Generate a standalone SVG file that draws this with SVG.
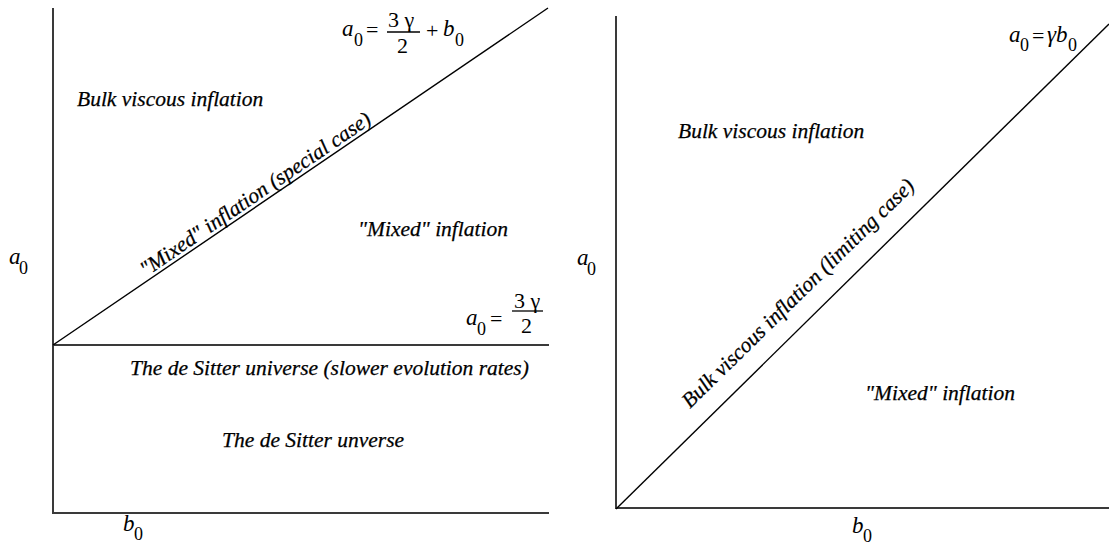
<svg xmlns="http://www.w3.org/2000/svg" width="1109" height="550" viewBox="0 0 1109 550">
<style>
.ax{stroke:#3a3a3a;stroke-width:2;fill:none}
.dg{stroke:#000;stroke-width:1.4;fill:none}
.lb{font-family:"Liberation Serif",serif;font-style:italic;font-size:21.5px;fill:#000;stroke:#000;stroke-width:0.25}
.m{font-family:"Liberation Serif",serif;font-size:22px;fill:#000}
.mi{font-family:"Liberation Serif",serif;font-style:italic;font-size:23px;fill:#000}
.sb{font-family:"Liberation Serif",serif;font-size:18px;fill:#000}
</style>
<rect width="1109" height="550" fill="#fff"/>
<g id="connectors">
<path class="ax" d="M53,8 V513 H549"/>
<path class="ax" d="M53,345 H549"/>
<path class="dg" d="M53,345 L548,8"/>
<path class="ax" d="M616,16 V508 H1109"/>
<path class="dg" d="M616,509 L1109,24"/>
</g>
<g id="left-axis-labels">
<text class="mi" x="9" y="264">a</text><text class="sb" x="19" y="274">0</text>
<text class="mi" x="123" y="531">b</text><text class="sb" x="134" y="540">0</text>
</g>
<g id="eq1">
<text class="mi" x="342" y="36">a</text><text class="sb" x="354" y="46">0</text>
<text class="m" x="366" y="37">=</text>
<text class="m" x="388" y="27">3 γ</text>
<line x1="387" y1="32" x2="420" y2="32" stroke="#000" stroke-width="1.3"/>
<text class="m" x="397" y="53">2</text>
<text class="m" x="426" y="38">+</text>
<text class="mi" x="443" y="36">b</text><text class="sb" x="455" y="46">0</text>
</g>
<g id="eq2">
<text class="mi" x="466" y="325">a</text><text class="sb" x="477" y="335">0</text>
<text class="m" x="490" y="326">=</text>
<text class="m" x="514" y="308">3 γ</text>
<line x1="512" y1="311" x2="543" y2="311" stroke="#000" stroke-width="1.3"/>
<text class="m" x="521" y="333">2</text>
</g>
<g id="region-left">
<text class="lb" x="77" y="106">Bulk viscous inflation</text>
<text class="lb" x="358" y="236">"Mixed" inflation</text>
<text class="lb" x="130" y="375">The de Sitter universe (slower evolution rates)</text>
<text class="lb" x="222" y="447">The de Sitter unverse</text>
<text class="lb" transform="translate(146,277) rotate(-34.25)">"Mixed" inflation (special case)</text>
</g>
<g id="right-axis-labels">
<text class="mi" x="577" y="265">a</text><text class="sb" x="587" y="275">0</text>
<text class="mi" x="852" y="533">b</text><text class="sb" x="863" y="542">0</text>
</g>
<g id="eq3">
<text class="mi" x="1009" y="42">a</text><text class="sb" x="1020" y="51">0</text>
<text class="m" x="1032" y="43">=</text>
<text class="mi" x="1047" y="42">γb</text><text class="sb" x="1068" y="51">0</text>
</g>
<g id="region-right">
<text class="lb" x="678" y="138">Bulk viscous inflation</text>
<text class="lb" x="865" y="400">"Mixed" inflation</text>
<text class="lb" transform="translate(690,409) rotate(-44.5)">Bulk viscous inflation (limiting case)</text>
</g>
</svg>
